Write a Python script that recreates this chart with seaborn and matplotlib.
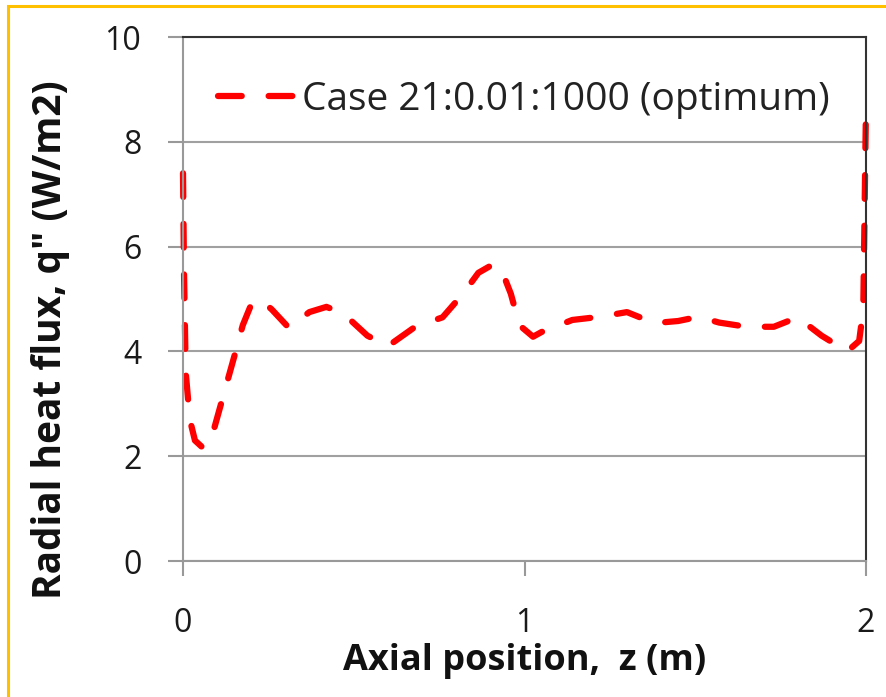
import matplotlib
matplotlib.use("Agg")
import matplotlib.pyplot as plt
import seaborn as sns
import pandas as pd
from matplotlib.patches import Rectangle

z_m = [0.0, 0.003, 0.008, 0.02, 0.035, 0.06, 0.09, 0.12, 0.15, 0.175, 0.2, 0.225,
       0.26, 0.31, 0.37, 0.42, 0.47, 0.54, 0.6, 0.68, 0.76, 0.82, 0.865, 0.905,
       0.93, 0.96, 0.985, 1.025, 1.05, 1.14, 1.22, 1.3, 1.38, 1.45, 1.51, 1.57,
       1.65, 1.73, 1.8, 1.87, 1.945, 1.98, 1.992, 2.0]
q_flux = [7.4, 5.5, 3.6, 2.7, 2.3, 2.15, 2.5, 3.2, 3.9, 4.5, 4.9, 5.0,
          4.8, 4.45, 4.75, 4.85, 4.72, 4.3, 4.1, 4.47, 4.65, 5.1, 5.5, 5.65,
          5.6, 5.1, 4.5, 4.28, 4.37, 4.6, 4.66, 4.75, 4.54, 4.58, 4.66, 4.55,
          4.47, 4.47, 4.65, 4.3, 4.0, 4.2, 4.8, 8.7]
series_label = "Case 21:0.01:1000 (optimum)"
x_ticks = [0, 1, 2]
y_ticks = [0, 2, 4, 6, 8, 10]
x_label = "Axial position,  z (m)"
y_label = "Radial heat flux, q\" (W/m2)"

df = pd.DataFrame({"z": z_m, "q": q_flux})

sns.set_theme(style="white")
plt.rcParams["font.family"] = ["Open Sans", "DejaVu Sans"]

fig = plt.figure(figsize=(8.86, 6.97), dpi=100)
ax = fig.add_axes([183/886, 1-561/697, (866-183)/886, (561-37)/697])

sns.lineplot(data=df, x="z", y="q", ax=ax, color="#FF0000", linewidth=4.5,
             label=series_label, sort=False)
line = ax.lines[0]
line.set_dashes((3.8, 4.3))
line.set_dash_capstyle("round")
line.set_solid_capstyle("round")
line.set_clip_on(False)

ax.set_xlim(0, 2)
ax.set_ylim(0, 10)
ax.set_xticks(x_ticks)
ax.set_yticks(y_ticks)
ax.set_xticklabels([str(v) for v in x_ticks])
ax.set_yticklabels([str(v) for v in y_ticks])
ax.grid(axis="y", color="#A0A0A0", linewidth=1.5)
ax.set_axisbelow(True)

ax.tick_params(axis="both", direction="out", length=11, width=1.5,
               color="#999999", labelsize=23, labelcolor="#1a1a1a", pad=19)
ax.tick_params(axis="x", bottom=True, pad=22)
ax.tick_params(axis="y", left=True)

for s in ["left", "bottom"]:
    ax.spines[s].set_color("#999999")
    ax.spines[s].set_linewidth(1.5)
for s in ["top", "right"]:
    ax.spines[s].set_color("#333333")
    ax.spines[s].set_linewidth(1.5)

ax.set_xlabel(x_label, fontsize=26, fontweight="bold", color="#111111", labelpad=2)
ax.set_ylabel(y_label, fontsize=28, fontweight="bold", color="#111111")
ax.yaxis.set_label_coords((70 - 183) / 683, (561 - 340) / 524)

leg = ax.legend(loc="center left", bbox_to_anchor=((218-183)/683, (561-100)/524),
                frameon=False, fontsize=28, borderaxespad=0, borderpad=0,
                handlelength=2.1, handletextpad=0.07)
for t in leg.get_texts():
    t.set_color("#222222")
for h in leg.get_lines():
    h.set_linewidth(4.5)

# orange border (top and left)
fig.patches.append(Rectangle((8/886, -0.01), 1.0, 1 - 6/697 + 0.01, transform=fig.transFigure,
                             fill=False, edgecolor="#FFC000", linewidth=2.2))

fig.savefig("out.png", dpi=100)
